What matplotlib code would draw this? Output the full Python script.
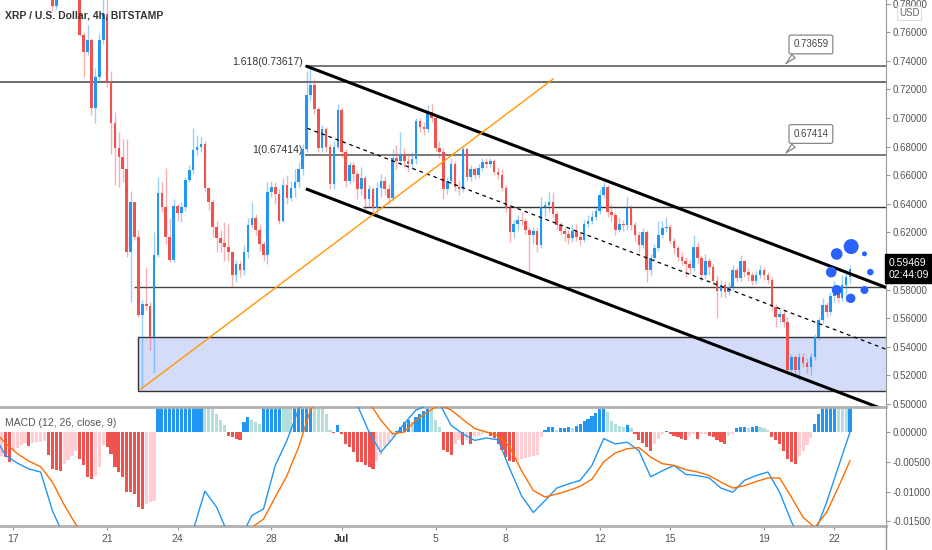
import numpy as np
import matplotlib
matplotlib.use('Agg')
import matplotlib.pyplot as plt
from matplotlib.patches import Rectangle
from matplotlib.lines import Line2D
import matplotlib.transforms as mtransforms

plt.rcParams['font.family'] = ['Liberation Sans Narrow', 'Liberation Sans', 'DejaVu Sans']

# x axis = 4h bar number, bar 0 = 17 Jun 00:00 (6 bars per day)
BARS_PER_DAY = 6

# candles, first bar = 10
first_bar = 10
first_open = 0.790
close = [
    0.778, 0.792, 0.800, 0.805, 0.798, 0.795, 0.792, 0.758, 0.746, 0.7545,
    0.707, 0.729, 0.7545, 0.773, 0.725, 0.6965, 0.679, 0.673, 0.664, 0.606,
    0.641, 0.617, 0.562, 0.570, 0.5685, 0.547, 0.604, 0.6475, 0.638, 0.617,
    0.601, 0.6385, 0.6336, 0.638, 0.6566, 0.6636, 0.6776, 0.680, 0.682, 0.651,
    0.641, 0.624, 0.616, 0.6125, 0.610, 0.606, 0.590, 0.598, 0.594, 0.606,
    0.625, 0.630, 0.622, 0.612, 0.604, 0.648, 0.652, 0.647, 0.628, 0.653,
    0.644, 0.651, 0.655, 0.664, 0.678, 0.716, 0.723, 0.706, 0.679, 0.692,
    0.680, 0.654, 0.680, 0.7056, 0.676, 0.656, 0.667, 0.661, 0.650, 0.658,
    0.643, 0.650, 0.637, 0.651, 0.656, 0.650, 0.644, 0.672, 0.670, 0.675,
    0.670, 0.668, 0.671, 0.698, 0.694, 0.692, 0.704, 0.700, 0.679, 0.676,
    0.650, 0.656, 0.668, 0.652, 0.650, 0.678, 0.659, 0.664, 0.660, 0.665,
    0.669, 0.668, 0.670, 0.662, 0.660, 0.651, 0.637, 0.620, 0.626, 0.629,
    0.628, 0.622, 0.618, 0.621, 0.611, 0.638, 0.639, 0.641, 0.633, 0.625,
    0.621, 0.619, 0.616, 0.621, 0.617, 0.615, 0.626, 0.628, 0.631, 0.635,
    0.646, 0.652, 0.634, 0.632, 0.622, 0.626, 0.625, 0.637, 0.625, 0.618,
    0.611, 0.620, 0.594, 0.602, 0.609, 0.618, 0.623, 0.624, 0.614, 0.609,
    0.603, 0.600, 0.598, 0.595, 0.610, 0.602, 0.590, 0.600, 0.596, 0.586,
    0.579, 0.583, 0.578, 0.582, 0.594, 0.588, 0.600, 0.592, 0.590, 0.586,
    0.590, 0.594, 0.590, 0.587, 0.568, 0.561, 0.563, 0.557, 0.524, 0.533,
    0.524, 0.533, 0.529, 0.526, 0.533, 0.547, 0.5587, 0.569, 0.564, 0.5755,
    0.579, 0.574, 0.583, 0.589, 0.59469,
]
high = [
    0.796, 0.800, 0.806, 0.811, 0.808, 0.801, 0.798, 0.795, 0.760, 0.765,
    0.756, 0.735, 0.759, 0.784, 0.786, 0.733, 0.704, 0.690, 0.685, 0.685,
    0.649, 0.641, 0.622, 0.573, 0.596, 0.571, 0.620, 0.659, 0.6555, 0.665,
    0.630, 0.643, 0.640, 0.641, 0.659, 0.667, 0.693, 0.688, 0.687, 0.684,
    0.652, 0.643, 0.628, 0.622, 0.627, 0.626, 0.607, 0.601, 0.600, 0.611,
    0.630, 0.641, 0.633, 0.626, 0.614, 0.655, 0.656, 0.655, 0.650, 0.658,
    0.660, 0.656, 0.664, 0.669, 0.682, 0.733, 0.736, 0.727, 0.708, 0.695,
    0.694, 0.682, 0.684, 0.710, 0.707, 0.678, 0.669, 0.669, 0.663, 0.666,
    0.660, 0.653, 0.652, 0.655, 0.661, 0.659, 0.654, 0.678, 0.681, 0.690,
    0.679, 0.674, 0.676, 0.700, 0.700, 0.697, 0.709, 0.710, 0.702, 0.684,
    0.679, 0.659, 0.672, 0.670, 0.656, 0.680, 0.679, 0.667, 0.666, 0.668,
    0.672, 0.672, 0.672, 0.671, 0.666, 0.664, 0.653, 0.639, 0.629, 0.632,
    0.634, 0.630, 0.624, 0.624, 0.623, 0.645, 0.642, 0.6485, 0.6485, 0.635,
    0.627, 0.624, 0.622, 0.625, 0.626, 0.620, 0.629, 0.632, 0.635, 0.638,
    0.650, 0.6555, 0.653, 0.640, 0.634, 0.630, 0.629, 0.645, 0.639, 0.627,
    0.620, 0.623, 0.622, 0.605, 0.612, 0.628, 0.628, 0.631, 0.626, 0.616,
    0.611, 0.606, 0.603, 0.601, 0.618, 0.613, 0.604, 0.605, 0.602, 0.598,
    0.590, 0.587, 0.586, 0.585, 0.597, 0.596, 0.604, 0.601, 0.595, 0.592,
    0.593, 0.597, 0.596, 0.592, 0.589, 0.570, 0.566, 0.566, 0.561, 0.535,
    0.534, 0.536, 0.536, 0.532, 0.536, 0.549, 0.561, 0.574, 0.571, 0.578,
    0.586, 0.582, 0.590, 0.592, 0.5975,
]
low = [
    0.775, 0.776, 0.790, 0.796, 0.792, 0.789, 0.786, 0.757, 0.729, 0.744,
    0.702, 0.6965, 0.725, 0.752, 0.722, 0.675, 0.653, 0.652, 0.655, 0.603,
    0.571, 0.615, 0.561, 0.511, 0.566, 0.538, 0.522, 0.603, 0.634, 0.612,
    0.599, 0.599, 0.628, 0.627, 0.635, 0.655, 0.661, 0.674, 0.676, 0.648,
    0.636, 0.617, 0.606, 0.606, 0.600, 0.600, 0.582, 0.585, 0.589, 0.590,
    0.602, 0.623, 0.618, 0.607, 0.600, 0.598, 0.645, 0.640, 0.626, 0.627,
    0.640, 0.642, 0.645, 0.652, 0.660, 0.676, 0.712, 0.703, 0.676, 0.676,
    0.676, 0.650, 0.650, 0.678, 0.673, 0.652, 0.654, 0.655, 0.643, 0.646,
    0.636, 0.638, 0.632, 0.632, 0.645, 0.646, 0.640, 0.642, 0.664, 0.667,
    0.666, 0.662, 0.664, 0.668, 0.690, 0.688, 0.690, 0.697, 0.676, 0.672,
    0.643, 0.647, 0.654, 0.649, 0.646, 0.648, 0.656, 0.656, 0.657, 0.658,
    0.663, 0.665, 0.666, 0.660, 0.657, 0.649, 0.634, 0.613, 0.616, 0.621,
    0.625, 0.619, 0.5925, 0.612, 0.606, 0.609, 0.631, 0.634, 0.630, 0.622,
    0.618, 0.614, 0.612, 0.613, 0.614, 0.611, 0.613, 0.624, 0.626, 0.629,
    0.633, 0.644, 0.631, 0.628, 0.618, 0.620, 0.621, 0.622, 0.622, 0.614,
    0.606, 0.609, 0.585, 0.590, 0.600, 0.607, 0.616, 0.620, 0.612, 0.605,
    0.600, 0.597, 0.589, 0.591, 0.593, 0.598, 0.586, 0.588, 0.590, 0.583,
    0.560, 0.575, 0.574, 0.576, 0.580, 0.585, 0.586, 0.589, 0.586, 0.583,
    0.584, 0.588, 0.587, 0.584, 0.566, 0.554, 0.557, 0.554, 0.521, 0.520,
    0.521, 0.517, 0.526, 0.522, 0.520, 0.531, 0.545, 0.556, 0.561, 0.562,
    0.571, 0.571, 0.572, 0.571, 0.584,
]

# MACD histogram, one bar per candle, first bar = -3
hist_first_bar = -3
hist = [
    -0.0040, -0.0042, -0.0050, -0.0031, -0.0026, -0.0022, -0.0018, -0.0024, -0.0018, -0.0017,
    -0.0016, -0.0015, -0.0039,
    -0.0062, -0.0063, -0.0065, -0.0053, -0.0047, -0.0040, -0.0031, -0.0045, -0.0056, -0.0076,
    -0.0079, -0.0073, -0.0059, -0.0022, -0.0025, -0.0036, -0.0059, -0.0067, -0.0076, -0.0100,
    -0.0101, -0.0104, -0.0126, -0.0129, -0.0121, -0.0118, -0.0115, 0.0050, 0.0065, 0.0075,
    0.0082, 0.0090, 0.0095, 0.0100, 0.0104, 0.0108, 0.0112, 0.0115, 0.0118, 0.0060,
    0.0041, 0.0038, 0.0030, 0.0020, 0.0011, -0.0006, -0.0008, -0.0011, -0.0014, 0.0017,
    0.0025, 0.0020, 0.0017, 0.0014, 0.0050, 0.0060, 0.0068, 0.0075, 0.0080, 0.0078,
    0.0076, 0.0074, 0.0078, 0.0085, 0.0090, 0.0100, 0.0105, 0.0095, 0.0075, 0.0040,
    0.0031, 0.0003, -0.0002, 0.0011, -0.0003, -0.0020, -0.0025, -0.0034, -0.0050, -0.0051,
    -0.0056, -0.0059, -0.0062, -0.0048, -0.0039, -0.0025, -0.0017, -0.0008, 0.0002, 0.0008,
    0.0017, 0.0020, 0.0017, 0.0025, 0.0031, 0.0036, 0.0040, 0.0037, 0.0020, 0.0008,
    -0.0030, -0.0034, -0.0039, -0.0020, -0.0014, -0.0022, -0.0014, -0.0020, -0.0008, -0.0006,
    -0.0003, -0.0002, -0.0006, -0.0010, -0.0020, -0.0030, -0.0042, -0.0048, -0.0050, -0.0048,
    -0.0046, -0.0044, -0.0042, -0.0040, -0.0038, -0.0008, 0.0003, 0.0008, 0.0009, 0.0003,
    0.0006, 0.0007, 0.0008, 0.0007, 0.0010, 0.0013, 0.0018, 0.0022, 0.0027, 0.0032,
    0.0038, 0.0045, 0.0034, 0.0019, 0.0013, 0.0010, 0.0008, 0.0011, 0.0006, -0.0004,
    -0.0014, -0.0018, -0.0025, -0.0031, -0.0020, -0.0011, -0.0003, 0.0002, -0.0004, -0.0006,
    -0.0008, -0.0011, -0.0014, -0.0006, -0.0003, -0.0011, -0.0004, -0.0003, -0.0006, -0.0008,
    -0.0014, -0.0017, -0.0020, -0.0006, -0.0003, 0.0006, 0.0008, 0.0009, 0.0006, 0.0009,
    0.0010, 0.0009, 0.0006, 0.0003, -0.0008, -0.0014, -0.0020, -0.0031, -0.0045, -0.0050,
    -0.0053, -0.0040, -0.0031, -0.0022, -0.0010, 0.0014, 0.0031, 0.0045, 0.0055, 0.0062,
    0.0068, 0.0064, 0.0060, 0.0058, 0.0070,
]

# MACD and signal lines, read every 3 bars starting at bar -5
line_first_bar = -5
line_step = 3
macd_line = [
    -0.0005, -0.0039, -0.0052, -0.0062, -0.0067, -0.0132, -0.0175, -0.0186, -0.0250, -0.0253,
    -0.0240, -0.0290, -0.0340, -0.0385, -0.0240, -0.0210, -0.0190, -0.0165, -0.0099, -0.0126,
    -0.0172, -0.0180, -0.0140, -0.0129, -0.0056, -0.0014, 0.0039, 0.0070, 0.0100, 0.0110,
    0.0090, 0.0045, 0.0000, -0.0034, -0.0011, 0.0014, 0.0037, 0.0045, 0.0048, 0.0011,
    -0.0003, -0.0014, -0.0010, -0.0013, -0.0062, -0.0107, -0.0135, -0.0115, -0.0094, -0.0087,
    -0.0081, -0.0056, -0.0011, -0.0020, -0.0017, -0.0031, -0.0075, -0.0065, -0.0056, -0.0071,
    -0.0073, -0.0077, -0.0094, -0.0101, -0.0081, -0.0073, -0.0067, -0.0101, -0.0150, -0.0190,
    -0.0170, -0.0118, -0.0059, 0.0000,
]
signal_line = [
    0.0003, -0.0019, -0.0036, -0.0049, -0.0058, -0.0084, -0.0122, -0.0155, -0.0174, -0.0194,
    -0.0204, -0.0214, -0.0236, -0.0264, -0.0290, -0.0292, -0.0290, -0.0240, -0.0200, -0.0175,
    -0.0172, -0.0170, -0.0160, -0.0146, -0.0109, -0.0073, -0.0025, 0.0037, 0.0065, 0.0080,
    0.0085, 0.0075, 0.0050, 0.0020, -0.0003, 0.0000, 0.0020, 0.0034, 0.0045, 0.0037,
    0.0021, 0.0006, 0.0000, -0.0006, -0.0025, -0.0065, -0.0098, -0.0109, -0.0104, -0.0098,
    -0.0091, -0.0079, -0.0050, -0.0035, -0.0028, -0.0026, -0.0042, -0.0053, -0.0056, -0.0063,
    -0.0067, -0.0073, -0.0084, -0.0094, -0.0090, -0.0083, -0.0077, -0.0077, -0.0109, -0.0143,
    -0.0160, -0.0135, -0.0093, -0.0048,
]

# date axis
tick_days = [0, 4, 7, 11, 14, 18, 21, 25, 28, 32, 35]
tick_labels = ['17', '21', '24', '28', 'Jul', '5', '8', '12', '15', '19', '22']

# drawings (bar, price)
level_left = 0.7255
fib_start = 74.6
fib_levels = [0.73659, 0.67414]
res_start, res_level = 89.5, 0.6375
sup_start, sup_level = 31.0, 0.5816
zone_start, zone_low, zone_high = 31.9, 0.5089, 0.5469
channel_x = [75.2, 223.2]
channel_upper = [0.7360, 0.5815]
channel_mid = [0.6928, 0.5383]
channel_lower = [0.6501, 0.4956]
trend_x = [32.66, 138.1]
trend_y = [0.5105, 0.7273]
dots_x = [210.6, 214.3, 217.7, 209.2, 219.2, 210.6, 217.7, 214.2]
dots_y = [0.6049, 0.6101, 0.6050, 0.5922, 0.5922, 0.5797, 0.5797, 0.5739]
dots_r = [5.8, 7.5, 2.5, 5.3, 3.3, 5.0, 4.0, 4.7]
last_price = 0.59469

UP = '#2196f3'
DOWN = '#ef5350'
AXIS_TXT = '#555555'

fig = plt.figure(figsize=(9.32, 5.5), dpi=100)
ax = fig.add_axes([0, 0.26, 0.9506, 0.74])
ax2 = fig.add_axes([0, 0.0436, 0.9506, 0.2164], sharex=ax)

# candles
bars = np.arange(first_bar, first_bar + len(close))
c = np.array(close)
o = np.r_[first_open, c[:-1]]
up = c >= o
col = np.where(up, UP, DOWN)
ax.vlines(bars, low, high, colors=col, lw=1, alpha=0.45, zorder=3)
body_lo = np.minimum(o, c)
body_h = np.maximum(np.abs(c - o), 0.0006)
ax.bar(bars, body_h, bottom=body_lo, width=0.66, color=col, lw=0, zorder=4)

xl = (-3.4, 223.2)
ax.set_xlim(xl)
ax.set_ylim(0.4979, 0.7825)

# horizontal levels and zone
ax.hlines(level_left, xl[0], xl[1], color='#444444', lw=1.1, zorder=2)
for lv in fib_levels:
    ax.hlines(lv, fib_start, xl[1], color='#555555', lw=1.1, zorder=2)
ax.hlines(res_level, res_start, xl[1], color='#333333', lw=1.0, zorder=2)
ax.hlines(sup_level, sup_start, xl[1], color='#444444', lw=1.0, zorder=2)
ax.add_patch(Rectangle((zone_start, zone_low), xl[1] - zone_start + 2, zone_high - zone_low,
                       fc='#d5dcf9', ec='#333333', lw=1.0, zorder=1))

# channel + trend line
ax.plot(channel_x, channel_upper, color='black', lw=2.2, zorder=5)
ax.plot(channel_x, channel_lower, color='black', lw=2.2, zorder=5)
ax.plot(channel_x, channel_mid, color='black', lw=0.9, ls=(0, (3, 3)), zorder=5)
ax.plot(trend_x, trend_y, color='#ff9800', lw=1.0, zorder=5)

# fib labels
ax.text(fib_start - 0.5, 0.7391, '1.618(0.73617)', ha='right', va='center', fontsize=7.5, color='#333333')
ax.text(fib_start - 0.5, 0.6776, '1(0.67414)', ha='right', va='center', fontsize=7.5, color='#333333')

# callouts
for lv, ty in zip(fib_levels, [0.7514, 0.6888]):
    ax.annotate(f'{lv:.5f}', xy=(197.1, lv), xytext=(204.0, ty), ha='center', va='center',
                fontsize=7, color='#444444',
                bbox=dict(boxstyle='round,pad=0.45,rounding_size=0.2', fc='white', ec='#888888', lw=0.9),
                arrowprops=dict(arrowstyle='wedge,tail_width=0.5,shrink_factor=0.4', fc='white',
                                ec='#888888', lw=0.9, relpos=(0.2, 0.0)),
                zorder=6)

# blue dots
ax.scatter(dots_x, dots_y, s=(1.44 * np.array(dots_r)) ** 2, color='#2962ff', lw=0, zorder=7, clip_on=False)

# price axis
ax.yaxis.tick_right()
ax.set_yticks(np.arange(0.50, 0.7801, 0.02))
ax.set_yticklabels([f'{v:.5f}' for v in np.arange(0.50, 0.7801, 0.02)])
ax.tick_params(axis='y', length=3, width=0.8, color='#999999', labelsize=7, labelcolor=AXIS_TXT, pad=2)
ax.tick_params(axis='x', length=0, labelbottom=False)
for s in ['top', 'left', 'bottom']:
    ax.spines[s].set_visible(False)
ax.spines['right'].set_color('#999999')

# last price tag
tr = mtransforms.blended_transform_factory(ax.transAxes, ax.transData)
ax.text(1.003, last_price, '0.59469\n02:44:09', transform=tr, ha='left', va='center', fontsize=7.5,
        color='white', linespacing=1.25, zorder=10, clip_on=False,
        bbox=dict(boxstyle='square,pad=0.3', fc='black', ec='black'))

# MACD panel
hb = np.arange(hist_first_bar, hist_first_bar + len(hist))
h = np.array(hist)
hp = np.r_[h[0], h[:-1]]
hcol = np.where(h >= 0, np.where(h >= hp, '#2196f3', '#b2dfdb'),
                np.where(h < hp, '#ef5350', '#ffcdd2'))
ax2.bar(hb, h, width=0.8, color=hcol, lw=0, zorder=2)
lx = line_first_bar + line_step * np.arange(len(macd_line))
ax2.plot(lx, macd_line, color='#2196f3', lw=1.0, zorder=3)
ax2.plot(lx, signal_line, color='#ff6d00', lw=1.0, zorder=3)
ax2.set_ylim(-0.01576, 0.0042)
ax2.set_xlim(xl)
ax2.yaxis.tick_right()
ax2.set_yticks([0.0, -0.005, -0.010, -0.015])
ax2.set_yticklabels(['0.00000', '-0.00500', '-0.01000', '-0.01500'])
ax2.tick_params(axis='y', length=3, width=0.8, color='#999999', labelsize=7, labelcolor=AXIS_TXT, pad=2)
ax2.set_xticks([d * BARS_PER_DAY for d in tick_days])
ax2.set_xticklabels(tick_labels)
ax2.tick_params(axis='x', length=3, width=0.8, color='#999999', labelsize=7.5, labelcolor=AXIS_TXT, pad=3)
for lab in ax2.get_xticklabels():
    if lab.get_text() == 'Jul':
        lab.set_fontweight('bold')
        lab.set_color('#333333')
ax2.spines['left'].set_visible(False)
ax2.spines['right'].set_color('#999999')
ax2.spines['top'].set_color('#b0b0b0')
ax2.spines['top'].set_linewidth(2)
ax2.spines['bottom'].set_color('#b0b0b0')
ax2.spines['bottom'].set_linewidth(2)

fig.add_artist(Line2D([0.9506, 0.9506], [0.0, 0.0436], color='#999999', lw=1))

# texts
fig.text(5 / 932, 1 - 15 / 550, 'XRP / U.S. Dollar, 4h, BITSTAMP', fontsize=7.5, fontweight='bold',
         color='#333333', va='center')
fig.text(5 / 932, 1 - 423 / 550, 'MACD (12, 26, close, 9)', fontsize=7.5, color=AXIS_TXT, va='center')
fig.text(909 / 932, 1 - 13 / 550, 'USD', fontsize=7, color='#666666', ha='center', va='center',
         bbox=dict(boxstyle='square,pad=0.2', fc='white', ec='#dddddd', lw=0.8))

fig.savefig('out.png', dpi=100)
